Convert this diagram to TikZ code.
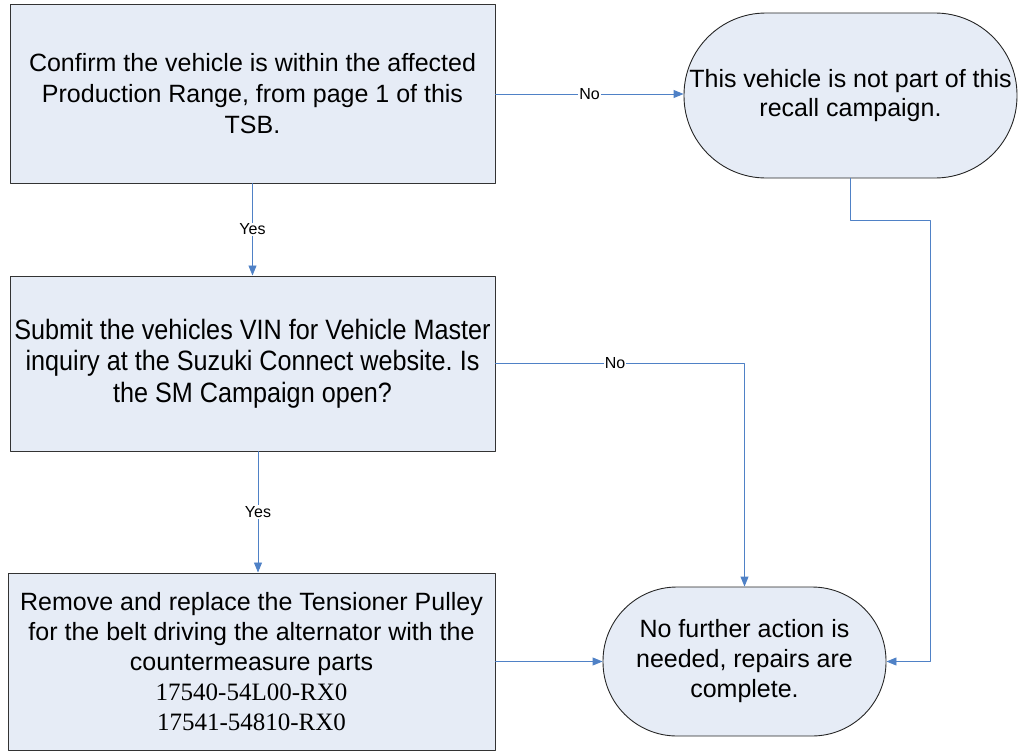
\documentclass[tikz,border=0pt]{standalone}
\usepackage{fontspec}
\setmainfont{Liberation Sans}
\newfontfamily\partfont{Liberation Serif}
\newfontfamily\narrowfont[FakeStretch=0.9]{Liberation Sans}
\usetikzlibrary{arrows.meta,calc}
\frenchspacing

\begin{document}
\begin{tikzpicture}[line cap=round,line join=round,x=1pt,y=-1pt,
  box/.style={draw=black!80,line width=1pt,fill=boxfill,rectangle,minimum width=485pt,align=center,inner sep=0pt,font=\fontsize{25}{31}\selectfont},
  endbox/.style={draw=black!85,line width=0.9pt,fill=boxfill,rectangle,align=center,inner sep=0pt,font=\fontsize{25}{30}\selectfont},
  flow/.style={draw=flowblue,line width=0.9pt,-{Triangle[length=10pt,width=8pt]}},
  lbl/.style={fill=white,inner sep=1pt,font=\fontsize{16}{16}\selectfont}]
\definecolor{boxfill}{HTML}{E6ECF6}
\definecolor{flowblue}{HTML}{4F81C6}

\useasboundingbox (0,0) rectangle (1019,752);

\node[box,minimum height=178pt] (confirm) at (252.5,94) {Confirm the vehicle is within the affected\\Production Range, from page 1 of this\\TSB.};
\node[box,minimum height=175pt,font=\narrowfont\fontsize{28}{31.5}\selectfont] (submit) at (252.5,363.5) {Submit the vehicles VIN for Vehicle Master\\inquiry at the Suzuki Connect website. Is\\the SM Campaign open?};
\node[box,minimum width=487pt,minimum height=177pt,font=\fontsize{25}{30}\selectfont] (replace) at (251.5,661.5) {Remove and replace the Tensioner Pulley\\for the belt driving the alternator with the\\countermeasure parts\\{\partfont 17540-54L00-RX0}\\{\partfont 17541-54810-RX0}};
\node[endbox,minimum width=333pt,minimum height=165pt,rounded corners=82pt,font=\fontsize{25}{29}\selectfont] (notpart) at (850.5,95.5) {This vehicle is not part of this\\recall campaign.};
\node[endbox,minimum width=283pt,minimum height=149pt,rounded corners=74pt] (done) at (744.5,661.5) {No further action is\\needed, repairs are\\complete.};

\coordinate (bend) at (930,220);

\draw[flow] (confirm.east) -- node[lbl] {No} (confirm.east -| notpart.west);
\draw[flow] (confirm.south) -- node[lbl] {Yes} (submit.north);
\draw[flow] (submit.east) -| node[lbl,pos=0.24] {No} (done.north);
\draw[flow] ([xshift=5.5pt]submit.south) -- node[lbl] {Yes} ([xshift=6.5pt]replace.north);
\draw[flow] (replace.east) -- (done.west);
\draw[flow] (notpart.south) |- (bend) |- (done.east);
\end{tikzpicture}
\end{document}
